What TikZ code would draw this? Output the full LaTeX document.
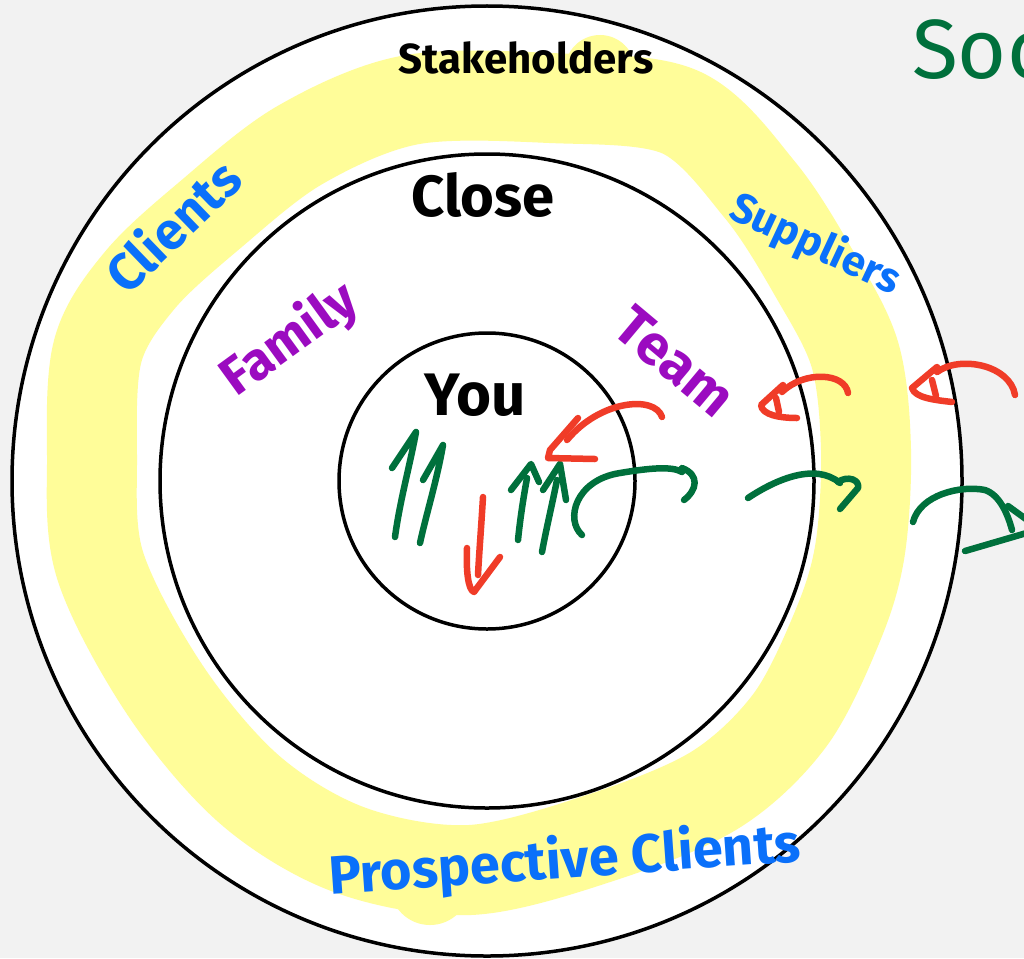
\documentclass[tikz,border=0pt]{standalone}
\usepackage{fontspec}
\setmainfont{Fira Sans}
\definecolor{bgc}{HTML}{F2F2F2}
\definecolor{hly}{HTML}{FFFD99}
\definecolor{blu}{HTML}{0A70FA}
\definecolor{pur}{HTML}{9B0BC0}
\definecolor{grn}{HTML}{00703C}
\definecolor{rd}{HTML}{F03C28}
\begin{document}
\begin{tikzpicture}[x=1pt,y=-1pt,
  ring/.style={circle,draw=black,line width=3.5pt,inner sep=0pt},
  hand/.style={line width=6.5pt,line cap=round,line join=round},
  g/.style={hand,draw=grn},
  r/.style={hand,draw=rd},
  lbl/.style={inner sep=0pt,anchor=center}]
\useasboundingbox (0,0) rectangle (1024,958);
\fill[bgc] (0,0) rectangle (1024,958);
\begin{scope}
\clip (0,0) rectangle (1024,958);
\fill[white] (487,481) circle[radius=475];
% highlighter band
\draw[hly,line width=90pt,line cap=round,line join=round]
  plot[smooth cycle,tension=0.55] coordinates {(550,98) (680,112) (760,190) (815,275) (855,355) (866,450) (860,550) (838,625) (790,720) (715,790) (600,838) (470,870) (350,850) (250,790) (165,690) (100,565) (92,455) (98,350) (140,280) (210,215) (300,145) (410,100)};
\fill[hly] (600,70) circle[radius=35];
\fill[hly] (430,885) circle[radius=40];
% rings
\node[ring,minimum size=950pt] (outer) at (487,481) {};
\node[ring,minimum size=654pt] (middle) at (487,481) {};
\node[ring,minimum size=296pt] (inner) at (487,481) {};
% labels
\node[lbl,font=\bfseries\fontsize{42}{42}\selectfont] (stake) at (526,58) {Stakeholders};
\node[lbl,font=\bfseries\fontsize{58}{58}\selectfont] (close) at (483,195) {Close};
\node[lbl,font=\bfseries\fontsize{60}{60}\selectfont] (you) at (475,395) {You};
\node[lbl,text=blu,rotate=44,font=\bfseries\fontsize{52}{52}\selectfont] (clients) at (172,225) {Clients};
\node[lbl,text=blu,rotate=-25,font=\bfseries\fontsize{42}{42}\selectfont] (suppliers) at (815,245) {Suppliers};
\node[lbl,text=pur,rotate=36,font=\bfseries\fontsize{53}{53}\selectfont] (family) at (290,340) {Family};
\node[lbl,text=pur,rotate=-40,font=\bfseries\fontsize{56}{56}\selectfont] (team) at (675,362) {Team};
\node[lbl,text=blu,rotate=4,font=\bfseries\fontsize{54}{54}\selectfont] (prospects) at (565,862) {Prospective Clients};
\node[lbl,anchor=west,text=grn,font=\fontsize{84}{84}\selectfont] (society) at (912,50) {Soc};
% green up arrows
\draw[g] (392,468) -- (416,432) .. controls (410,465) and (400,500) .. (395,537);
\draw[g] (423,480) -- (443,445) .. controls (437,480) and (426,515) .. (420,543);
\draw[g] (511,490) -- (531,464) -- (539,482);
\draw[g] (527,478) .. controls (523,500) and (520,520) .. (518,540);
\draw[g] (543,490) -- (560,464) -- (566,500);
\draw[g] (557,480) .. controls (552,505) and (546,530) .. (542,552);
% red down arrow
\draw[r] (483,497) .. controls (481,530) and (479,555) .. (478,575);
\draw[r] (467,548) .. controls (466,570) and (468,590) .. (474,592) -- (500,557);
% red arrow inward (team -> you)
\draw[r] (662,417) .. controls (655,395) and (600,400) .. (567,440);
\draw[r] (578,418) -- (550,450) -- (548,458) -- (595,459);
% green arrow outward (you -> team)
\draw[g] (582,535) .. controls (565,520) and (575,480) .. (620,473) .. controls (650,468) and (672,466) .. (682,472);
\draw[g] (682,468) .. controls (700,475) and (697,490) .. (684,500);
% red arrow middle ring
\draw[r] (848,393) .. controls (845,373) and (805,370) .. (782,392);
\draw[r] (783,385) -- (761,405) .. controls (762,415) and (780,418) .. (797,418);
\draw[r] (776,398) -- (779,412);
% red arrow outer
\draw[r] (1015,395) .. controls (1010,365) and (960,355) .. (937,372);
\draw[r] (937,367) -- (912,388) .. controls (915,398) and (935,400) .. (952,402);
\draw[r] (932,380) -- (936,396);
% green arrow middle ring
\draw[g] (748,498) .. controls (775,480) and (815,462) .. (840,483);
\draw[g] (838,482) .. controls (848,475) and (860,480) .. (858,488) -- (840,509);
% green arrow outer
\draw[g] (913,522) .. controls (920,495) and (960,485) .. (985,490) .. controls (1000,495) and (1008,515) .. (1012,530);
\draw[g] (1008,506) -- (1030,522);
\draw[g] (965,551) -- (1030,532);
\end{scope}
\end{tikzpicture}
\end{document}
